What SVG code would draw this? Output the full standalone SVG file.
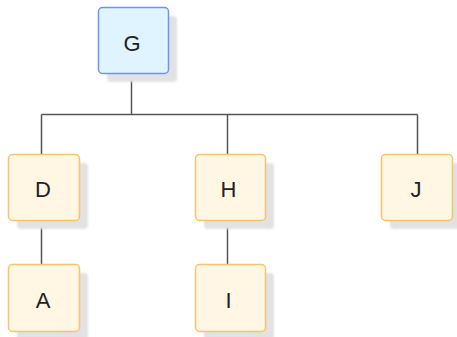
<svg xmlns="http://www.w3.org/2000/svg" width="457" height="337" viewBox="0 0 457 337">
<defs>
<filter id="sh" x="-20%" y="-20%" width="150%" height="150%">
<feGaussianBlur stdDeviation="1"/>
</filter>
<style>
.shadow{fill:#e2e2e2;filter:url(#sh)}
.blue{fill:#dff4ff;stroke:#6f93f2;stroke-width:1.5}
.orange{fill:#fff6e4;stroke:#f6c46d;stroke-width:1.5}
.lbl{font-family:"Liberation Sans",Arial,sans-serif;font-size:22px;fill:#222;text-anchor:middle}
.conn{fill:none;stroke:#555;stroke-width:1.5}
</style>
</defs>
<g id="connectors">
<path class="conn" d="M131.5 74 V114.5 M41.5 114.5 H417.5 M41.5 114.5 V154.5 M227.5 114.5 V154.5 M417.5 114.5 V154.5 M41.5 221 V264.5 M227.5 221 V264.5"/>
</g>
<g id="G">
<rect class="shadow" x="107" y="16" width="70" height="66" rx="4"/>
<rect class="blue" x="98.5" y="7.5" width="70" height="66" rx="4"/>
<text class="lbl" x="132" y="51">G</text>
</g>
<g id="D">
<rect class="shadow" x="17" y="163" width="71" height="66" rx="4"/>
<rect class="orange" x="8.5" y="154.5" width="71" height="66" rx="4"/>
<text class="lbl" x="43" y="197">D</text>
</g>
<g id="H">
<rect class="shadow" x="204" y="163" width="70" height="66" rx="4"/>
<rect class="orange" x="195.5" y="154.5" width="70" height="66" rx="4"/>
<text class="lbl" x="228.5" y="197">H</text>
</g>
<g id="J">
<rect class="shadow" x="390" y="163" width="71" height="66" rx="4"/>
<rect class="orange" x="381.5" y="154.5" width="71" height="66" rx="4"/>
<text class="lbl" x="416" y="197">J</text>
</g>
<g id="A">
<rect class="shadow" x="17" y="273" width="71" height="67" rx="4"/>
<rect class="orange" x="8.5" y="264.5" width="71" height="67" rx="4"/>
<text class="lbl" x="43" y="308">A</text>
</g>
<g id="I">
<rect class="shadow" x="204" y="273" width="70" height="67" rx="4"/>
<rect class="orange" x="195.5" y="264.5" width="70" height="67" rx="4"/>
<text class="lbl" x="228.5" y="308">I</text>
</g>
</svg>
